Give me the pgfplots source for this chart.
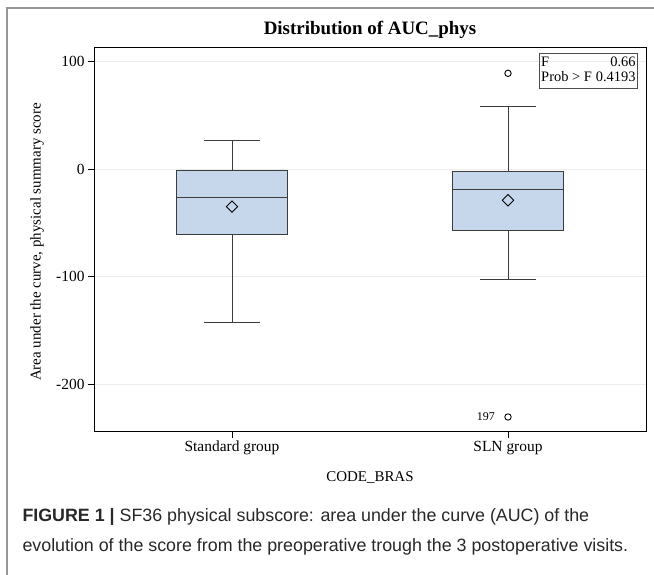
\documentclass[border=0pt]{standalone}
\usepackage{pgfplots}
\pgfplotsset{compat=1.18}
\usepgfplotslibrary{statistics}
\usepackage{fontspec}
\setmainfont{Liberation Serif}
\newfontfamily\capfont{Liberation Sans}
\definecolor{boxfill}{RGB}{198,215,236}
\definecolor{boxline}{RGB}{60,60,60}
\definecolor{gridc}{RGB}{236,236,236}
\definecolor{framec}{RGB}{150,150,150}
\definecolor{capc}{RGB}{40,40,40}
\begin{document}
\begin{tikzpicture}
\path[use as bounding box] (0,0) rectangle (654bp,-575bp);
\draw[framec, line width=1.2bp] (7bp,-580bp) -- (7bp,-8bp) -- (660bp,-8bp);
\node[font=\fontsize{19}{22}\selectfont\bfseries] at (370bp,-30bp) {Distribution of AUC\_phys};
\begin{axis}[
  at={(94bp,-431.5bp)}, anchor=south west,
  scale only axis, width=552bp, height=384bp,
  xmin=-0.5, xmax=1.5, ymin=-244, ymax=113,
  xtick={0,1}, xticklabels={Standard group, SLN group},
  ytick={-200,-100,0,100},
  xtick pos=bottom, ytick pos=left,
  tick align=outside, major tick length=6bp,
  tick style={black, line width=0.9bp},
  axis line style={black, line width=1bp},
  ymajorgrids, grid style={gridc, line width=0.8bp},
  /pgf/number format/assume math mode=true,
  tick label style={font=\fontsize{15.5}{18}\selectfont},
  xlabel={CODE\_BRAS},
  ylabel={Area under the curve, physical summary score},
  label style={font=\fontsize{15}{18}\selectfont},
  xlabel style={at={(axis description cs:0.5,-0.121)}, anchor=center},
  ylabel style={at={(axis description cs:-0.1033,0.4935)}, anchor=center},
  boxplot/draw direction=y,
  clip=false,
]
\addplot[boxplot prepared={draw position=0, lower whisker=-142.3, lower quartile=-60.5, median=-26, upper quartile=-1.2, upper whisker=27, box extend=0.4, whisker extend=0.2}, draw=boxline, fill=boxfill, line width=1bp] coordinates {};
\addplot[boxplot prepared={draw position=1, lower whisker=-103, lower quartile=-57, median=-18.6, upper quartile=-2, upper whisker=58.5, box extend=0.4, whisker extend=0.2}, draw=boxline, fill=boxfill, line width=1bp] coordinates {};
\addplot[only marks, mark=square, mark size=4bp, mark options={rotate=45, draw=black, fill=none, line width=0.9bp}] coordinates {(0,-35) (1,-29)};
\addplot[only marks, mark=o, mark size=3.2bp, mark options={draw=black, line width=0.9bp}] coordinates {(1,89) (1,-230.5)};
\node[anchor=east, font=\fontsize{12}{14}\selectfont] at (axis cs:0.965,-230.5) {197};
\node[anchor=north east, draw=black!70, line width=0.7bp, inner sep=2bp, font=\fontsize{14.5}{17}\selectfont] at ([xshift=-8bp,yshift=-5bp]rel axis cs:1,1) {\begin{tabular}{@{}l@{\hspace{4bp}}r@{}}F & 0.66\\[-2bp] Prob > F & 0.4193\end{tabular}};
\end{axis}
\node[anchor=west, font=\capfont\fontsize{17.9}{21}\selectfont, text=capc] at (19bp,-517bp) {\textbf{FIGURE 1 |} SF36 physical subscore: area under the curve (AUC) of the};
\node[anchor=west, font=\capfont\fontsize{17.9}{21}\selectfont, text=capc] at (19bp,-547bp) {evolution of the score from the preoperative trough the 3 postoperative visits.};
\end{tikzpicture}
\end{document}
